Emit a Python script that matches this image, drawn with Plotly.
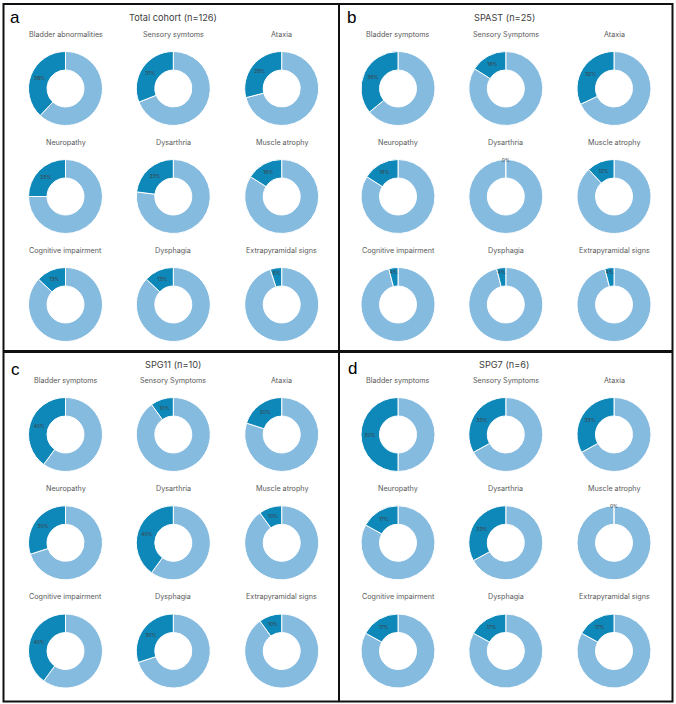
import plotly.graph_objects as go

W, H = 676, 704

# ---------------- data ----------------
cats_total = ["Bladder abnormalities", "Sensory symtoms", "Ataxia",
              "Neuropathy", "Dysarthria", "Muscle atrophy",
              "Cognitive impairment", "Dysphagia", "Extrapyramidal signs"]
cats_gene = ["Bladder symptoms", "Sensory Symptoms", "Ataxia",
             "Neuropathy", "Dysarthria", "Muscle atrophy",
             "Cognitive impairment", "Dysphagia", "Extrapyramidal signs"]

total_pct = [38, 31, 29, 25, 23, 16, 13, 13, 5]
spast_pct = [36, 16, 32, 16, 0, 12, 4, 4, 4]
spg11_pct = [40, 10, 20, 30, 40, 10, 40, 30, 10]
spg7_pct = [50, 33, 33, 17, 33, 0, 17, 17, 17]

panel_letters = ["a", "b", "c", "d"]
panel_titles = ["Total cohort (n=126)", "SPAST (n=25)", "SPG11 (n=10)", "SPG7 (n=6)"]
panel_cats = [cats_total, cats_gene, cats_gene, cats_gene]
panel_vals = [total_pct, spast_pct, spg11_pct, spg7_pct]

# ---------------- layout constants ----------------
DARK = "#0E87B9"
LIGHT = "#86BBE0"
GRAY = "#595959"
FONT = "Inter"
R = 37.0

col_cx = [[65.5, 173.3, 281.7], [398.0, 505.8, 614.0]]
row_cy = [[88.5, 196.5, 304.5], [434.5, 542.8, 651.0]]
row_sub = [[34.0, 142.3, 250.0], [380.7, 488.3, 596.7]]
title_pos = [(172.7, 17.3), (504.7, 17.3), (173.0, 364.3), (504.0, 364.3)]
letter_pos = [(15.0, 17.0), (351.5, 17.0), (15.0, 369.0), (352.0, 368.0)]

fig = go.Figure()
annotations = []

for p in range(4):
    pc = p % 2
    pr = p // 2
    for i, (cat, v) in enumerate(zip(panel_cats[p], panel_vals[p])):
        r, c = divmod(i, 3)
        cx = col_cx[pc][c]
        cy = row_cy[pr][r]
        # light ("No") slice drawn first clockwise, so the dark ("Yes") slice
        # ends at 12 o'clock, sitting to the left of the top like the reference
        fig.add_trace(go.Pie(
            values=[100 - v, v],
            labels=["No", "Yes"],
            text=["", f"{v}%"],
            textinfo="text",
            textposition="inside",
            insidetextorientation="horizontal",
            textfont=dict(size=5, color="#404040", family=FONT),
            sort=False,
            direction="clockwise",
            rotation=0,
            hole=0.5,
            marker=dict(colors=[LIGHT, DARK], line=dict(color="white", width=1)),
            domain=dict(x=[(cx - R) / W, (cx + R) / W],
                        y=[1 - (cy + R) / H, 1 - (cy - R) / H]),
            showlegend=False,
            hoverinfo="label+percent",
        ))
        annotations.append(dict(
            x=cx / W, y=1 - row_sub[pr][r] / H, xref="paper", yref="paper",
            text=cat, showarrow=False, xanchor="center", yanchor="middle",
            font=dict(size=7.2, color=GRAY, family=FONT)))
    tx, ty = title_pos[p]
    annotations.append(dict(
        x=tx / W, y=1 - ty / H, xref="paper", yref="paper",
        text=panel_titles[p], showarrow=False, xanchor="center", yanchor="middle",
        font=dict(size=9.2, color="#404040", family=FONT)))
    lx, ly = letter_pos[p]
    annotations.append(dict(
        x=lx / W, y=1 - ly / H, xref="paper", yref="paper",
        text=panel_letters[p], showarrow=False, xanchor="center", yanchor="middle",
        font=dict(size=17, color="black", family="Liberation Sans")))

shapes = [
    dict(type="rect", xref="paper", yref="paper",
         x0=3.5 / W, x1=672.5 / W, y0=1 - 701.5 / H, y1=1 - 4 / H,
         line=dict(color="#111111", width=2)),
    dict(type="line", xref="paper", yref="paper",
         x0=339 / W, x1=339 / W, y0=1 - 701.5 / H, y1=1 - 4 / H,
         line=dict(color="#111111", width=2)),
    dict(type="line", xref="paper", yref="paper",
         x0=3.5 / W, x1=672.5 / W, y0=1 - 351.5 / H, y1=1 - 351.5 / H,
         line=dict(color="#111111", width=3)),
]

fig.update_layout(
    width=W, height=H,
    margin=dict(l=0, r=0, t=0, b=0),
    paper_bgcolor="white", plot_bgcolor="white",
    annotations=annotations,
    shapes=shapes,
    uniformtext=dict(mode="show", minsize=5),
    font=dict(family=FONT),
)

fig.write_html("out.html")
